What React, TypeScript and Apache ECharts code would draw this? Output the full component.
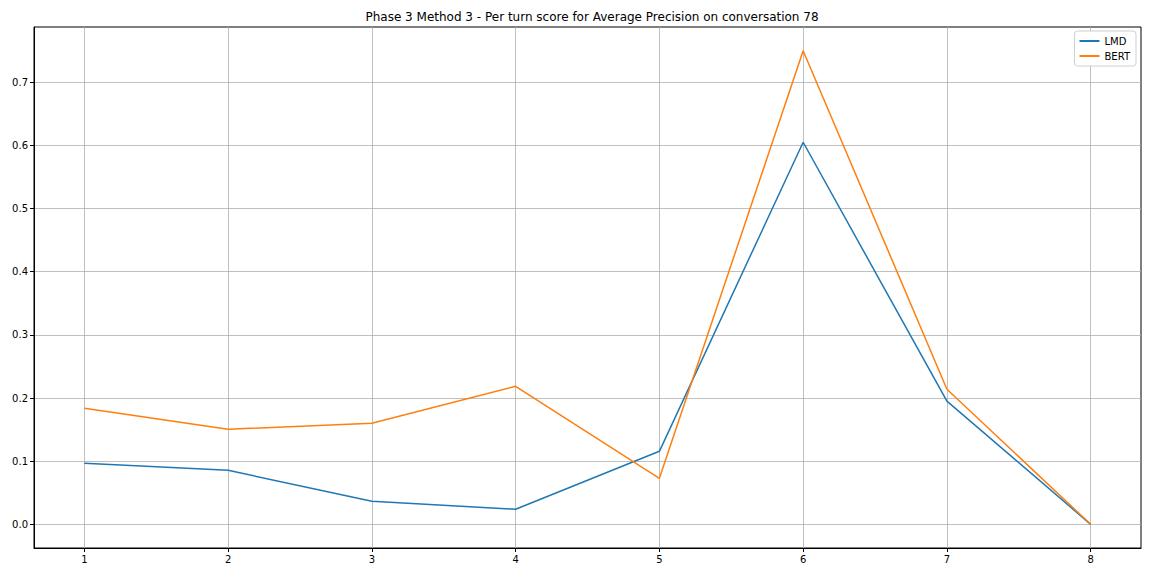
import React, { useEffect, useRef } from "react";
import * as echarts from "echarts";

const turns = [1, 2, 3, 4, 5, 6, 7, 8];
const lmd = [0.0966, 0.0855, 0.0364, 0.0238, 0.1156, 0.605, 0.195, 0.0];
const bert = [0.1837, 0.1505, 0.1600, 0.2186, 0.0729, 0.75, 0.214, 0.0];
const yTicks = [0, 0.1, 0.2, 0.3, 0.4, 0.5, 0.6, 0.7];

const FONT = "DejaVu Sans";

export default function App() {
  const ref = useRef<HTMLDivElement>(null);
  useEffect(() => {
    if (!ref.current) return;
    const chart = echarts.init(ref.current, undefined, { renderer: "svg" });
    chart.setOption({
      animation: false,
      backgroundColor: "#fff",
      title: {
        text: "Phase 3 Method 3 - Per turn score for Average Precision on conversation 78",
        left: 587,
        textAlign: "center",
        top: 6,
        textStyle: { fontFamily: FONT, fontSize: 12, fontWeight: "normal", color: "#000" },
      },
      legend: {
        orient: "vertical",
        right: 16,
        top: 31,
        backgroundColor: "#fff",
        borderColor: "#d0d0d0",
        borderWidth: 1,
        borderRadius: 3,
        padding: [5, 6, 5, 5],
        itemGap: 5,
        itemWidth: 20,
        itemHeight: 2,
        icon: "rect",
        textStyle: { fontFamily: FONT, fontSize: 10, color: "#000" },
        data: ["LMD", "BERT"],
      },
      grid: {
        left: 34,
        right: 11,
        top: 27,
        bottom: 28,
        show: true,
        borderColor: "#000",
        borderWidth: 1,
        backgroundColor: "transparent",
      },
      xAxis: {
        type: "value",
        min: 0.65,
        max: 8.35,
        axisLine: { show: true, onZero: false, lineStyle: { color: "#000", width: 1 } },
        axisTick: {
          show: true,
          customValues: turns,
          length: 4,
          lineStyle: { color: "#000" },
        },
        axisLabel: {
          customValues: turns,
          fontFamily: FONT,
          fontSize: 10,
          color: "#000",
          margin: 6,
        },
        splitLine: { show: true, lineStyle: { color: "#b0b0b0", width: 0.8 } },
      },
      yAxis: {
        type: "value",
        min: -0.0375,
        max: 0.7875,
        axisLine: { show: true, onZero: false, lineStyle: { color: "#000", width: 1 } },
        axisTick: {
          show: true,
          customValues: yTicks,
          length: 4,
          lineStyle: { color: "#000" },
        },
        axisLabel: {
          customValues: yTicks,
          formatter: (v: number) => v.toFixed(1),
          fontFamily: FONT,
          fontSize: 10,
          color: "#000",
          margin: 6,
        },
        splitLine: { show: true, lineStyle: { color: "#b0b0b0", width: 0.8 } },
      },
      series: [
        {
          name: "LMD",
          type: "line",
          data: turns.map((t, i) => [t, lmd[i]]),
          symbol: "none",
          lineStyle: { color: "#1f77b4", width: 1.5 },
          itemStyle: { color: "#1f77b4" },
        },
        {
          name: "BERT",
          type: "line",
          data: turns.map((t, i) => [t, bert[i]]),
          symbol: "none",
          lineStyle: { color: "#ff7f0e", width: 1.5 },
          itemStyle: { color: "#ff7f0e" },
        },
      ],
    });
    return () => chart.dispose();
  }, []);
  return <div ref={ref} style={{ width: 1152, height: 576, position: "absolute", left: 0, top: 0 }} />;
}
